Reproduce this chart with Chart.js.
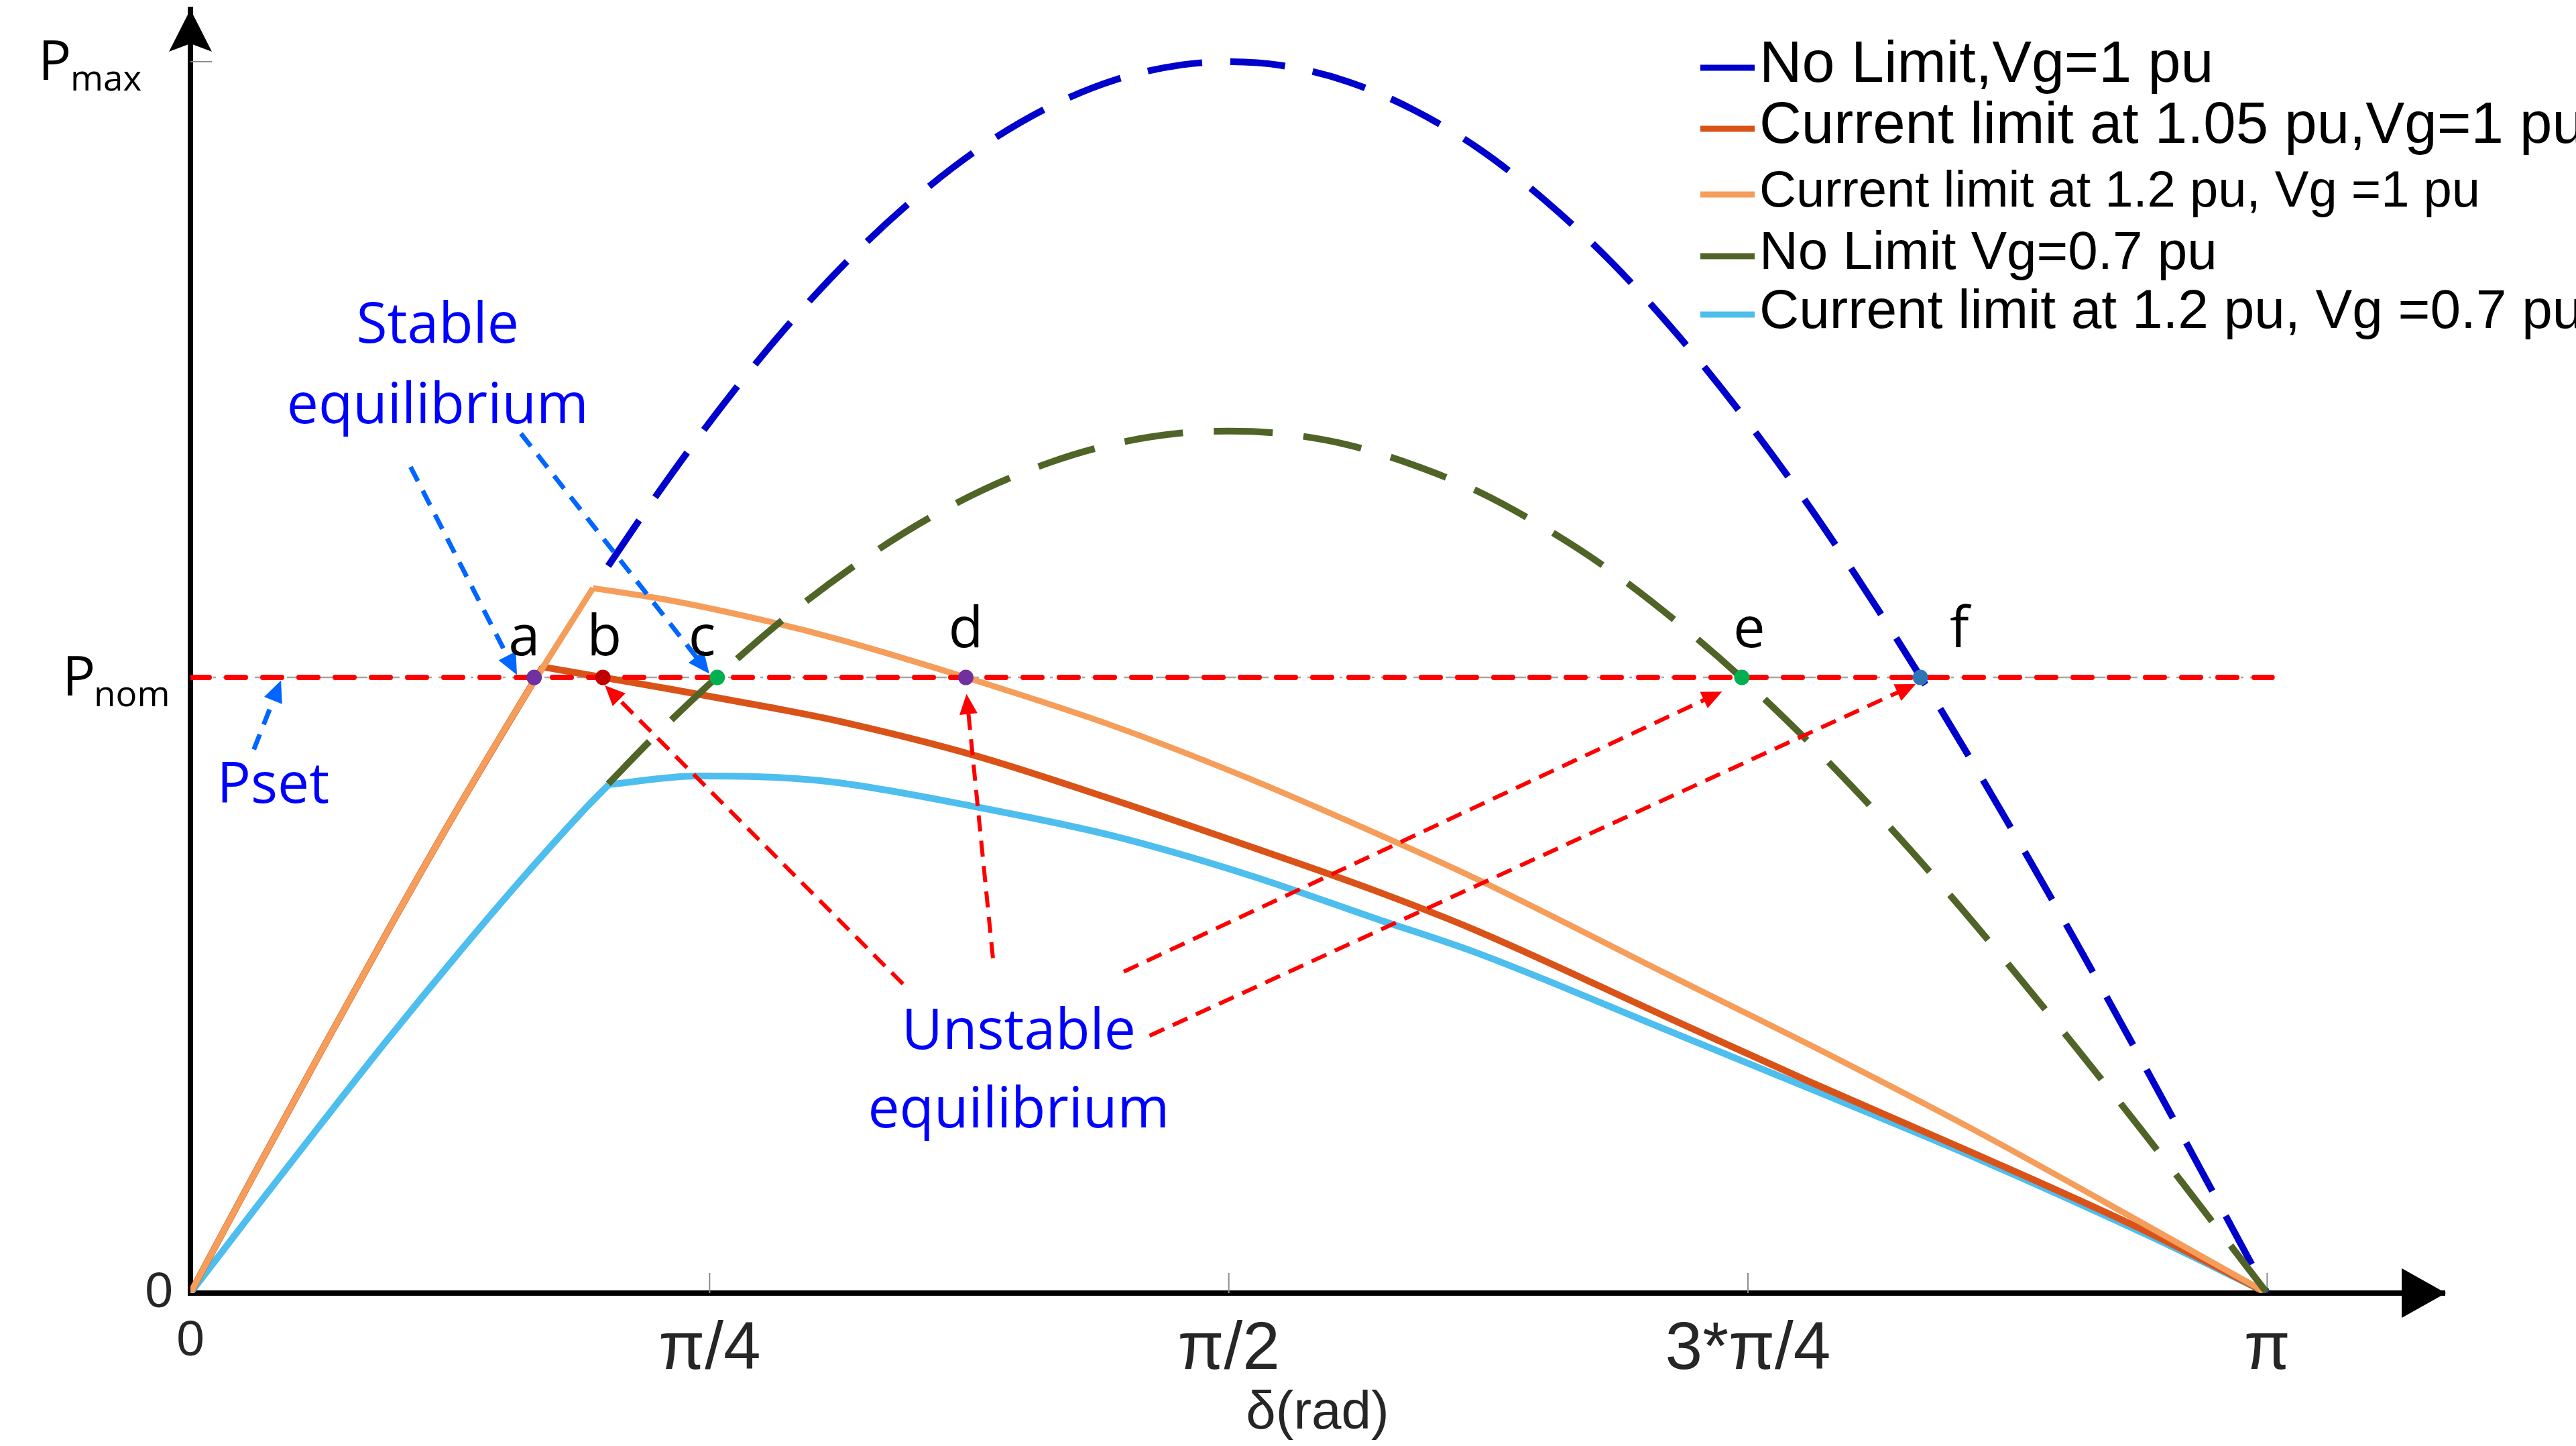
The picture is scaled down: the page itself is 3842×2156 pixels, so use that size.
<!DOCTYPE html>
<html>
<head>
<meta charset="utf-8">
<script src="https://cdn.jsdelivr.net/npm/chart.js@4.4.1/dist/chart.umd.min.js"></script>
<style>
  html, body { margin: 0; padding: 0; background: #fff; overflow: hidden; }
  canvas { display: block; }
</style>
</head>
<body>
<canvas id="grafico" width="3842" height="2156"></canvas>
<script>
// delta in rad, P in pu (Pnom = 1)

// no limit curves, drawn from the knee of the 0.7 pu limited curve on
var deltaNoLimit = [0.632, 0.70, 0.80, 0.90, 1.00, 1.10, 1.20, 1.30, 1.40, 1.50, 1.571, 1.65, 1.75, 1.85, 1.95, 2.05, 2.15, 2.25, 2.35, 2.45, 2.55, 2.65, 2.75, 2.85, 2.95, 3.05, 3.1416];
var pNoLimitVg1 = [1.181, 1.288, 1.435, 1.567, 1.683, 1.782, 1.864, 1.927, 1.971, 1.995, 2.000, 1.994, 1.968, 1.922, 1.858, 1.774, 1.674, 1.556, 1.423, 1.276, 1.115, 0.944, 0.763, 0.575, 0.381, 0.183, 0];
var pNoLimitVg07 = [0.827, 0.902, 1.004, 1.097, 1.178, 1.248, 1.305, 1.349, 1.380, 1.397, 1.400, 1.396, 1.378, 1.345, 1.301, 1.242, 1.172, 1.089, 0.996, 0.893, 0.781, 0.661, 0.534, 0.402, 0.267, 0.128, 0];

// current limit 1.05 pu, Vg = 1 pu (knee at index 6)
var deltaLim105 = [0, 0.1, 0.2, 0.3, 0.4, 0.5, 0.533, 0.624, 0.726, 0.878, 0.980, 1.187, 1.394, 1.601, 1.791, 1.945, 2.236, 2.450, 2.700, 2.959, 3.1416];
var pLim105 = [0, 0.200, 0.397, 0.591, 0.779, 0.959, 1.017, 1.000, 0.981, 0.951, 0.929, 0.873, 0.802, 0.726, 0.654, 0.589, 0.447, 0.343, 0.226, 0.100, 0];

// current limit 1.2 pu, Vg = 1 pu (knee at index 6)
var deltaLim12 = [0, 0.1, 0.2, 0.3, 0.4, 0.5, 0.609, 0.726, 0.878, 0.980, 1.173, 1.394, 1.601, 1.791, 1.945, 2.236, 2.349, 2.450, 2.700, 2.959, 3.1416];
var pLim12 = [0, 0.200, 0.397, 0.591, 0.779, 0.959, 1.145, 1.125, 1.090, 1.062, 1.000, 0.922, 0.836, 0.748, 0.673, 0.517, 0.457, 0.403, 0.264, 0.110, 0];

// current limit 1.2 pu, Vg = 0.7 pu (knee at index 7)
var deltaLim12Vg07 = [0, 0.1, 0.2, 0.3, 0.4, 0.5, 0.6, 0.633, 0.767, 0.878, 0.980, 1.187, 1.394, 1.601, 1.791, 1.945, 2.236, 2.450, 2.700, 2.959, 3.1416];
var pLim12Vg07 = [0, 0.140, 0.278, 0.414, 0.545, 0.671, 0.790, 0.826, 0.840, 0.838, 0.829, 0.790, 0.743, 0.679, 0.609, 0.553, 0.426, 0.332, 0.220, 0.095, 0];

// Pset line and equilibrium points
var psetDelta = [0, 3.149];
var psetP = [1, 1];
var eqNames = ['a', 'b', 'c', 'd', 'e', 'f'];
var eqDelta = [0.520, 0.624, 0.797, 1.173, 2.347, 2.617];
var eqP = [1, 1, 1, 1, 1, 1];

// axis ticks
var xTickValues = [0, Math.PI / 4, Math.PI / 2, 3 * Math.PI / 4, Math.PI];
var xTickLabels = ['0', 'π/4', 'π/2', '3*π/4', 'π'];
var yTickValues = [0, 1, 2];
var yTickLabels = ['0', 'Pnom', 'Pmax'];

function pts(xs, ys) {
  return xs.map(function (x, i) { return { x: x, y: ys[i] }; });
}
// the limited curves have a sharp knee, so they are drawn as two pieces
function before(xs, ys, k) { return pts(xs.slice(0, k + 1), ys.slice(0, k + 1)); }
function after(xs, ys, k) { return pts(xs.slice(k), ys.slice(k)); }

var eqColors = ['#7030A0', '#C00000', '#00B050', '#7030A0', '#00B050', '#2E75B6'];
var calibri = '"Open Sans", "Noto Sans", sans-serif';
var arial = '"Liberation Sans", Arial, sans-serif';

// text + arrows drawn on top, placed in data units
var labelPos = [[0.505, 1.036], [0.626, 1.036], [0.774, 1.036], [1.173, 1.049], [2.358, 1.049], [2.676, 1.049]];
var notes = [
  { text: 'Stable', at: [0.374, 1.544] },
  { text: 'equilibrium', at: [0.374, 1.413] },
  { text: 'Unstable', at: [1.253, 0.397] },
  { text: 'equilibrium', at: [1.253, 0.269] },
  { text: 'Pset', at: [0.125, 0.796] }
];
var blueArrows = [
  [[0.096, 0.883], [0.137, 0.995]],
  [[0.333, 1.342], [0.494, 1.004]],
  [[0.500, 1.396], [0.785, 1.006]]
];
var redArrows = [
  [[1.078, 0.502], [0.627, 0.987]],
  [[1.214, 0.544], [1.174, 0.973]],
  [[1.412, 0.522], [2.317, 0.977]],
  [[1.451, 0.418], [2.610, 0.989]]
];
var legendRows = [
  { ds: 3, size: 88, y: 98 },
  { ds: 7, size: 87, y: 189 },
  { ds: 5, size: 76, y: 287 },
  { ds: 2, size: 80, y: 379 },
  { ds: 9, size: 82, y: 466 }
];

function toPx(chart, p) {
  return [chart.scales.x.getPixelForValue(p[0]), chart.scales.y.getPixelForValue(p[1])];
}

function drawArrow(ctx, a, b, color, width, dash, head) {
  var ang = Math.atan2(b[1] - a[1], b[0] - a[0]);
  var c = Math.cos(ang), s = Math.sin(ang);
  ctx.save();
  ctx.strokeStyle = color;
  ctx.lineWidth = width;
  ctx.setLineDash(dash);
  ctx.beginPath();
  ctx.moveTo(a[0], a[1]);
  ctx.lineTo(b[0] - c * head * 0.8, b[1] - s * head * 0.8);
  ctx.stroke();
  ctx.setLineDash([]);
  ctx.fillStyle = color;
  ctx.beginPath();
  ctx.moveTo(b[0], b[1]);
  ctx.lineTo(b[0] - c * head + s * head * 0.45, b[1] - s * head - c * head * 0.45);
  ctx.lineTo(b[0] - c * head - s * head * 0.45, b[1] - s * head + c * head * 0.45);
  ctx.closePath();
  ctx.fill();
  ctx.restore();
}

var decor = {
  id: 'decor',
  beforeDatasetsDraw: function (chart) {
    var ctx = chart.ctx, area = chart.chartArea;
    var x = chart.scales.x, y = chart.scales.y;
    ctx.save();
    // thin grid line under Pset
    ctx.strokeStyle = '#A6A6A6';
    ctx.lineWidth = 2.5;
    ctx.setLineDash([24, 10, 4, 10]);
    ctx.beginPath();
    ctx.moveTo(area.left, y.getPixelForValue(1));
    ctx.lineTo(x.getPixelForValue(psetDelta[1]), y.getPixelForValue(1));
    ctx.stroke();
    ctx.setLineDash([]);
    // inner tick marks
    ctx.strokeStyle = '#8C8C8C';
    ctx.lineWidth = 2;
    xTickValues.slice(1).forEach(function (v) {
      var px = x.getPixelForValue(v);
      ctx.beginPath();
      ctx.moveTo(px, area.bottom);
      ctx.lineTo(px, area.bottom - 30);
      ctx.stroke();
    });
    ctx.beginPath();
    ctx.moveTo(area.left, y.getPixelForValue(2));
    ctx.lineTo(area.left + 32, y.getPixelForValue(2));
    ctx.stroke();
    ctx.restore();
  },
  beforeDatasetDraw: function (chart, args) {
    if (args.index !== 0) return;
    var ctx = chart.ctx;
    blueArrows.forEach(function (a) {
      drawArrow(ctx, toPx(chart, a[0]), toPx(chart, a[1]), '#0066FF', 7, [24, 16], 32);
    });
    redArrows.forEach(function (a) {
      drawArrow(ctx, toPx(chart, a[0]), toPx(chart, a[1]), '#FF0000', 6, [24, 14], 30);
    });
  },
  afterDraw: function (chart) {
    var ctx = chart.ctx, area = chart.chartArea;
    var y = chart.scales.y;
    ctx.save();
    // axis arrow heads
    ctx.fillStyle = '#000';
    ctx.beginPath();
    ctx.moveTo(area.left, area.top);
    ctx.lineTo(area.left + 32, area.top + 63);
    ctx.lineTo(area.left, area.top + 51);
    ctx.lineTo(area.left - 32, area.top + 63);
    ctx.closePath();
    ctx.fill();
    ctx.beginPath();
    ctx.moveTo(area.right + 2, area.bottom);
    ctx.lineTo(area.right - 64, area.bottom - 37);
    ctx.lineTo(area.right - 64, area.bottom + 37);
    ctx.closePath();
    ctx.fill();

    // y labels P with subscript
    ctx.fillStyle = '#000';
    ctx.textBaseline = 'alphabetic';
    ctx.textAlign = 'left';
    [[2, 57, 105], [1, 93, 140]].forEach(function (r) {
      var py = y.getPixelForValue(r[0]);
      ctx.font = '82px ' + calibri;
      ctx.fillText(yTickLabels[r[0]].charAt(0), r[1], py + 27);
      ctx.font = '53px ' + calibri;
      ctx.fillText(yTickLabels[r[0]].slice(1), r[2], py + 43);
    });

    // point letters
    ctx.textAlign = 'center';
    ctx.font = '85px ' + calibri;
    eqNames.forEach(function (n, i) {
      var p = toPx(chart, labelPos[i]);
      ctx.fillText(n, p[0], p[1]);
    });

    // blue notes
    ctx.fillStyle = '#0000FF';
    ctx.font = '84px ' + calibri;
    notes.forEach(function (n) {
      var p = toPx(chart, n.at);
      ctx.fillText(n.text, p[0], p[1]);
    });

    // legend
    ctx.textAlign = 'left';
    ctx.textBaseline = 'middle';
    legendRows.forEach(function (r) {
      var ds = chart.data.datasets[r.ds];
      ctx.strokeStyle = ds.borderColor;
      ctx.lineWidth = 9;
      ctx.beginPath();
      ctx.moveTo(2536, r.y + 3);
      ctx.lineTo(2617, r.y + 3);
      ctx.stroke();
      ctx.fillStyle = '#000';
      ctx.font = r.size + 'px ' + arial;
      ctx.fillText(ds.label, 2624, r.y);
    });
    ctx.restore();
  }
};

function curve(label, data, color, width, dash) {
  return {
    label: label, data: data, borderColor: color, borderWidth: width, borderDash: dash || [],
    pointRadius: 0, pointHoverRadius: 0, fill: false, cubicInterpolationMode: 'monotone'
  };
}

var lab105 = 'Current limit at 1.05 pu,Vg=1 pu';
var lab12 = 'Current limit at 1.2 pu, Vg =1 pu';
var lab12v07 = 'Current limit at 1.2 pu, Vg =0.7 pu';

var pset = curve('Pset', pts(psetDelta, psetP), '#FF0000', 8, [28, 26]);
pset.borderCapStyle = 'round';

var chart = new Chart(document.getElementById('grafico').getContext('2d'), {
  type: 'line',
  data: {
    datasets: [
      { label: 'equilibrium', data: pts(eqDelta, eqP), showLine: false, pointRadius: 11.5, pointHoverRadius: 11.5,
        pointBackgroundColor: eqColors, pointBorderWidth: 0 },
      pset,
      curve('No Limit Vg=0.7 pu', pts(deltaNoLimit, pNoLimitVg07), '#506428', 10, [88, 46]),
      curve('No Limit,Vg=1 pu', pts(deltaNoLimit, pNoLimitVg1), '#0000CD', 10, [82, 42]),
      curve(lab12, before(deltaLim12, pLim12, 6), '#F59E5B', 9),
      curve(lab12, after(deltaLim12, pLim12, 6), '#F59E5B', 9),
      curve(lab105, before(deltaLim105, pLim105, 6), '#D95319', 10),
      curve(lab105, after(deltaLim105, pLim105, 6), '#D95319', 10),
      curve(lab12v07, before(deltaLim12Vg07, pLim12Vg07, 7), '#4DBEEE', 10),
      curve(lab12v07, after(deltaLim12Vg07, pLim12Vg07, 7), '#4DBEEE', 10)
    ]
  },
  options: {
    responsive: false,
    devicePixelRatio: 1,
    animation: false,
    events: [],
    layout: { padding: { top: 14, right: 196, left: 0, bottom: 0 } },
    plugins: { legend: { display: false }, tooltip: { enabled: false } },
    scales: {
      x: {
        type: 'linear', min: 0, max: 3.41,
        border: { color: '#000', width: 8 },
        grid: { drawOnChartArea: false, drawTicks: false },
        afterBuildTicks: function (s) { s.ticks = xTickValues.map(function (v) { return { value: v }; }); },
        afterFit: function (s) { s.height = 228; s.paddingLeft = 0; s.paddingRight = 0; },
        ticks: {
          autoSkip: false, maxRotation: 0, padding: 35, color: '#262626',
          font: function (c) { return { family: arial, size: c.index === 0 ? 75 : 100, lineHeight: 1 }; },
          callback: function (v, i) { return xTickLabels[i]; }
        },
        title: { display: true, text: 'δ(rad)', color: '#262626', padding: 0,
          font: { family: arial, size: 80, lineHeight: 1.2 } }
      },
      y: {
        type: 'linear', min: 0, max: 2.085,
        border: { color: '#000', width: 8 },
        grid: { drawOnChartArea: false, drawTicks: false },
        afterBuildTicks: function (s) { s.ticks = yTickValues.map(function (v) { return { value: v }; }); },
        afterFit: function (s) { s.width = 284; s.paddingTop = 0; s.paddingBottom = 0; },
        ticks: {
          padding: 26, color: '#262626',
          font: { family: arial, size: 75 },
          callback: function (v, i) { return i === 0 ? yTickLabels[0] : ''; }
        }
      }
    }
  },
  plugins: [decor]
});
</script>
</body>
</html>
